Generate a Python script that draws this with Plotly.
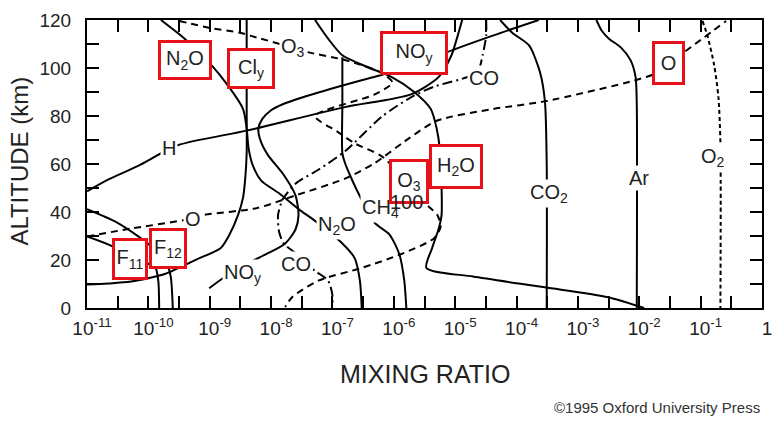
import plotly.graph_objects as go

# ---------------- vertical profiles: altitude (km) and mixing ratio ----------------
ar_z = [120, 115.5, 112.2, 108.6, 103.3, 96.3, 84.9, 0]
ar_mr = [2.0e-3, 2.45e-3, 3.2e-3, 5.0e-3, 7.2e-3, 8.7e-3, 9.1e-3, 9.1e-3]

co2_z = [120, 114.7, 109.4, 98.4, 86.1, 60.0, 0]
co2_mr = [5.4e-5, 8.5e-5, 1.6e-4, 2.4e-4, 2.9e-4, 3.1e-4, 3.1e-4]

o2_z = [119.6, 113.5, 101.2, 87.8, 68.6, 0]
o2_mr = [0.107, 0.129, 0.166, 0.195, 0.21, 0.21]

o_z = [29.8, 33.1, 36.7, 38.8, 41.6, 46.9, 53.9, 60.4, 69.4, 78.0, 82.9, 86.1, 94.7, 98.0, 106.1, 119.6]
o_mr = [1.0e-11, 5.2e-11, 3.9e-10, 8.1e-10, 5.8e-9, 2.5e-8, 1.6e-7, 4.9e-7, 1.5e-6, 5.0e-6,
        4.1e-5, 2.9e-4, 8.1e-3, 1.95e-2, 5.1e-2, 0.26]

o3_z = [119.6, 116.7, 114.7, 112.7, 108.6, 106.5, 103.3, 98.0, 93.9, 89.0, 80.0, 73.5, 68.6, 63.3,
        52.2, 44.1, 38.8, 33.9, 29.0, 22.4, 16.7, 11.4, 4.5, 0.4]
o3_mr = [3.2e-10, 1.0e-9, 3.1e-9, 5.8e-9, 2.2e-8, 4.1e-8, 1.6e-7, 6.3e-7, 9.5e-7, 4.9e-7, 5.2e-8,
         1.2e-7, 2.3e-7, 6.3e-7, 1.7e-6, 3.1e-6, 5.1e-6, 5.8e-6, 4.5e-6, 1.3e-6, 3.0e-7, 5.9e-8,
         2.2e-8, 1.7e-8]

h2o_z = [120, 112.2, 105.3, 100.4, 96.3, 90.2, 82.9, 74.7, 66.5, 50.2, 38.8, 33.1, 24.9, 16.7,
         13.1, 8.6, 4.5, 0]
h2o_mr = [5.2e-8, 8.5e-8, 1.45e-7, 3.7e-7, 9.1e-7, 2.1e-6, 4.0e-6, 5.0e-6, 5.6e-6, 6.0e-6, 6.0e-6,
          5.4e-6, 4.2e-6, 3.4e-6, 1.95e-5, 2.9e-4, 3.1e-3, 1.2e-2]

ch4_z = [104.5, 84.9, 64.5, 60.4, 55.1, 48.2, 35.5, 30.6, 22.4, 11.4, 0]
ch4_mr = [1.45e-7, 1.45e-7, 1.45e-7, 1.6e-7, 1.95e-7, 2.6e-7, 4.9e-7, 8.5e-7, 1.23e-6, 1.48e-6, 1.6e-6]

n2o_z = [120, 112.2, 102.0, 91.8, 82.9, 74.7, 66.5, 59.6, 53.1, 47.8, 41.2, 36.3, 26.9, 20.8, 11.4, 0]
n2o_mr = [1.6e-10, 3.9e-10, 1.0e-9, 2.1e-9, 3.5e-9, 4.0e-9, 4.3e-9, 5.0e-9, 6.9e-9, 1.35e-8,
          2.8e-8, 5.2e-8, 1.45e-7, 2.3e-7, 2.8e-7, 3.0e-7]

cly_z = [120, 84.9, 64.5, 54.3, 46.1, 38.8, 30.6, 24.9, 20.4, 14.3, 11.0, 10.2, 9.8]
cly_mr = [4.0e-9, 4.0e-9, 4.0e-9, 3.8e-9, 3.5e-9, 2.9e-9, 2.1e-9, 1.5e-9, 6.3e-10, 1.9e-10,
          5.2e-11, 2.2e-11, 1.0e-11]

noy_z = [8.2, 12.7, 18.4, 22.4, 26.9, 32.7, 38.8, 46.9, 55.5, 63.7, 69.4, 74.7, 78.8, 82.4, 84.9,
         89.8, 97.1, 100.4, 106.5, 113.5, 120]
noy_mr = [9.8e-10, 1.7e-9, 4.0e-9, 8.3e-9, 1.7e-8, 2.5e-8, 2.8e-8, 2.5e-8, 1.6e-8, 8.9e-9, 6.8e-9,
          6.2e-9, 7.2e-9, 1.0e-8, 1.55e-8, 5.9e-8, 6.3e-7, 2.1e-6, 7.2e-6, 4.1e-5, 2.3e-4]

h_z = [48.6, 53.5, 59.2, 67.8, 73.9, 83.7, 89.0, 96.3, 105.3, 113.5, 120]
h_mr = [1.0e-11, 2.2e-11, 6.8e-11, 3.0e-10, 4.0e-9, 1.6e-7, 1.9e-6, 5.4e-6, 8.7e-6, 1.1e-5, 1.3e-5]

co_z = [120, 113.5, 105.3, 99.2, 96.3, 92.2, 87.8, 79.6, 65.3, 57.6, 51.8, 45.3, 38.8, 31.8, 26.9,
        22.9, 15.5, 11.4, 5.3, 0.4]
co_mr = [3.2e-5, 3.2e-5, 2.8e-5, 2.4e-5, 1.6e-5, 4.5e-6, 1.9e-6, 6.3e-7, 1.6e-7, 5.9e-8, 2.5e-8,
         1.55e-8, 1.3e-8, 1.35e-8, 1.6e-8, 2.5e-8, 5.2e-8, 8.5e-8, 1.0e-7, 1.0e-7]

f11_z = [29.8, 26.5, 20.8, 16.7, 11.4, 0]
f11_mr = [1.0e-11, 2.2e-11, 6.2e-11, 1.3e-10, 1.45e-10, 1.5e-10]

f12_z = [41.2, 35.9, 29.0, 24.9, 19.6, 13.5, 0]
f12_mr = [1.0e-11, 2.95e-11, 7.6e-11, 1.2e-10, 1.9e-10, 2.3e-10, 2.5e-10]

# x-axis decades and their labels
decade_exps = [-11, -10, -9, -8, -7, -6, -5, -4, -3, -2, -1, 0]
decade_labels = ["10<sup>-11</sup>", "10<sup>-10</sup>", "10<sup>-9</sup>", "10<sup>-8</sup>",
                 "10<sup>-7</sup>", "10<sup>-6</sup>", "10<sup>-5</sup>", "10<sup>-4</sup>",
                 "10<sup>-3</sup>", "10<sup>-2</sup>", "10<sup>-1</sup>", "1"]
alt_ticks = [0, 10, 20, 30, 40, 50, 60, 70, 80, 90, 100, 110, 120]

FONT = "Liberation Sans"
INK = "#222222"
RED = "#e8111a"

fig = go.Figure()

SOLID = "solid"
DASH = "7px,5px"
DOT = "4px,3px"
DASHDOT = "10px,4px,2px,4px"

profiles = [
    (ar_mr, ar_z, SOLID), (co2_mr, co2_z, SOLID), (o2_mr, o2_z, DOT),
    (o_mr, o_z, DASH), (o3_mr, o3_z, DASH), (h2o_mr, h2o_z, SOLID),
    (ch4_mr, ch4_z, SOLID), (n2o_mr, n2o_z, SOLID), (cly_mr, cly_z, SOLID),
    (noy_mr, noy_z, SOLID), (h_mr, h_z, SOLID), (co_mr, co_z, DASHDOT),
    (f11_mr, f11_z, SOLID), (f12_mr, f12_z, SOLID),
]
for mr, z, dash in profiles:
    fig.add_trace(go.Scatter(
        x=mr, y=z, mode="lines", showlegend=False, hoverinfo="skip",
        line=dict(color="black", width=2, dash=dash, shape="spline", smoothing=0.7),
    ))

# tick positions every half decade, labels on whole decades
tickvals, ticktext = [], []
for e, lab in zip(decade_exps, decade_labels):
    tickvals.append(10.0 ** e)
    ticktext.append(lab)
    if e < 0:
        tickvals.append(10.0 ** (e + 0.5))
        ticktext.append("")

fig.update_xaxes(
    type="log", range=[-11, 0], tickvals=tickvals, ticktext=ticktext,
    ticks="inside", ticklen=12, tickwidth=2, tickcolor="black",
    showline=True, linecolor="black", linewidth=2, mirror="ticks",
    showgrid=False, zeroline=False, ticklabelstandoff=2, ticklabelshift=5,
    tickfont=dict(family=FONT, size=19, color=INK),
)
fig.update_yaxes(
    range=[0, 120], tickvals=alt_ticks,
    ticktext=[str(v) if v % 20 == 0 else "" for v in alt_ticks],
    ticks="inside", ticklen=12, tickwidth=2, tickcolor="black",
    showline=True, linecolor="black", linewidth=2, mirror="ticks",
    showgrid=False, zeroline=False, ticklabelstandoff=10,
    tickfont=dict(family=FONT, size=19, color=INK),
)


def label(text, lx, z, boxed=False, w=None, h=None, bg="white"):
    kw = dict(x=lx, y=z, xref="x", yref="y", text=text, showarrow=False,
              font=dict(family=FONT, size=20, color=INK), bgcolor=bg,
              xanchor="center", yanchor="middle")
    if boxed:
        kw.update(bordercolor=RED, borderwidth=3, borderpad=1, width=w, height=h)
    else:
        kw.update(borderpad=1)
    fig.add_annotation(**kw)


# species names along the curves (x in log10 units)
label("H", -9.668, 66.5)
label("O<sub>3</sub>", -7.645, 108.6)
label("CO", -4.531, 95.9)
label("O<sub>2</sub>", -0.791, 62.9)
label("Ar", -2.011, 54.3)
label("CO<sub>2</sub>", -3.472, 47.8)
label("CH<sub>4</sub>", -6.217, 41.6)
label("N<sub>2</sub>O", -6.923, 34.3)
label("CO", -7.597, 18.4)
label("NO<sub>y</sub>", -8.464, 14.3)
label("O", -9.27, 37.1)

# highlighted names
label("N<sub>2</sub>O", -9.403, 103.5, True, 46, 32)
label("Cl<sub>y</sub>", -8.327, 99.6, True, 40, 33)
label("NO<sub>y</sub>", -5.679, 106.3, True, 60, 36)
label("O", -1.530, 102.2, True, 25, 36)
label("H<sub>2</sub>O", -4.989, 58.8, True, 46, 37)
label("O<sub>3</sub>", -5.759, 52.8, True, 32, 37)
label("F<sub>11</sub>", -10.302, 20.6, True, 28, 34)
label("F<sub>12</sub>", -9.676, 24.9, True, 30, 33)

# stray figure text sitting over the ozone box edge
label("100", -5.80, 44.3, bg="rgba(0,0,0,0)")

# axis titles and credit line
fig.add_annotation(x=-0.1, y=0.51, xref="paper", yref="paper", text="ALTITUDE (km)",
                   textangle=-90, showarrow=False, font=dict(family=FONT, size=24, color=INK),
                   xanchor="center", yanchor="middle")
fig.add_annotation(x=0.5, y=-0.228, xref="paper", yref="paper", text="MIXING RATIO",
                   showarrow=False, font=dict(family=FONT, size=25, color=INK),
                   xanchor="center", yanchor="middle")
fig.add_annotation(x=1.0, y=-0.347, xref="paper", yref="paper",
                   text="©1995 Oxford University Press", showarrow=False,
                   font=dict(family=FONT, size=15, color="#333333"),
                   xanchor="right", yanchor="middle")

fig.update_layout(
    width=782, height=422,
    margin=dict(l=87, r=10, t=14, b=114),
    paper_bgcolor="white", plot_bgcolor="white",
    font=dict(family=FONT, color=INK),
)

fig.write_html("out.html")
